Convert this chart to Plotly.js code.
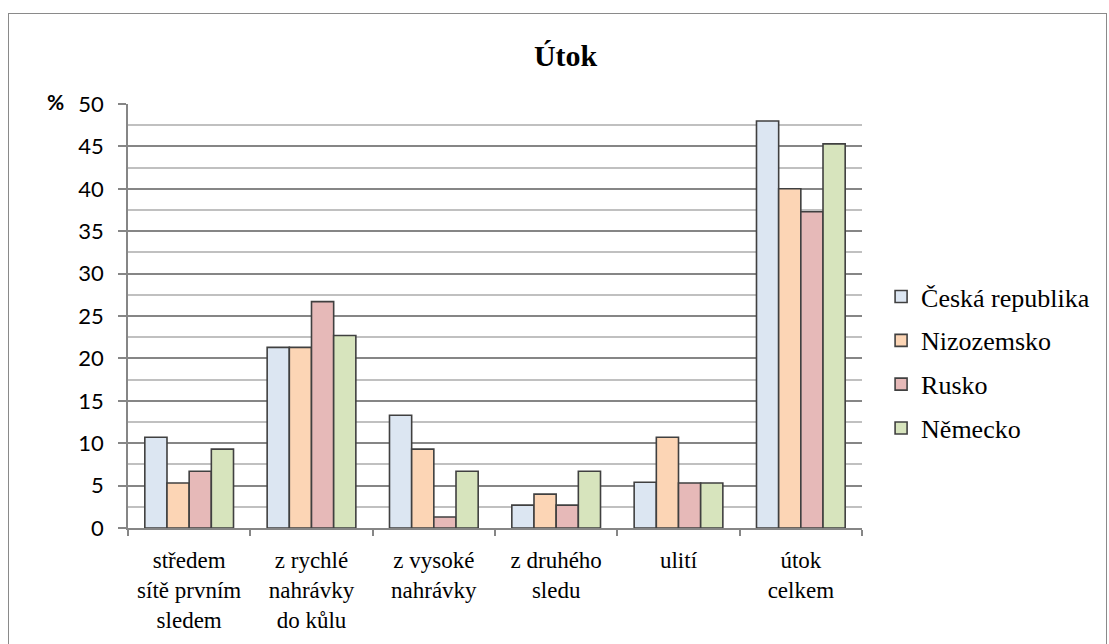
<!DOCTYPE html>
<html>
<head>
<meta charset="utf-8">
<script src="https://cdn.plot.ly/plotly-3.0.1.min.js"></script>
<style>
html,body{margin:0;padding:0;background:#fff;}
#wrap{position:relative;width:1109px;height:644px;overflow:hidden;}
#frame{position:absolute;left:8px;top:13px;width:1099px;height:700px;border:1.5px solid #8a8a8a;box-sizing:border-box;pointer-events:none;z-index:5;}
#chart{position:absolute;left:0;top:0;width:1109px;height:644px;}
</style>
</head>
<body>
<div id="wrap"><div id="chart"></div><div id="frame"></div></div>
<script>
const categories = [
  "středem<br>sítě prvním<br>sledem",
  "z rychlé<br>nahrávky<br>do kůlu",
  "z vysoké<br>nahrávky",
  "z druhého<br>sledu",
  "ulití",
  "útok<br>celkem"
];
const seriesNames = ["Česká republika", "Nizozemsko", "Rusko", "Německo"];
const ceskaRepublika = [10.7, 21.3, 13.3, 2.7, 5.4, 48.0];
const nizozemsko     = [5.3, 21.3, 9.3, 4.0, 10.7, 40.0];
const rusko          = [6.7, 26.7, 1.3, 2.7, 5.3, 37.3];
const nemecko        = [9.3, 22.7, 6.7, 6.7, 5.3, 45.3];
const yTicks = [0, 5, 10, 15, 20, 25, 30, 35, 40, 45, 50];

const seriesValues = [ceskaRepublika, nizozemsko, rusko, nemecko];
const colors = ["#dce6f2", "#fcd5b5", "#e6b9b8", "#d7e4bd"];
const SERIF = "Liberation Serif";
const SANS = "Lato";

const traces = seriesValues.map((vals, i) => ({
  type: "bar",
  name: seriesNames[i],
  x: categories,
  y: vals,
  legendgroup: "g" + i,
  marker: {color: colors[i], line: {color: "#404040", width: 1.6}},
  hoverinfo: "x+y+name"
}));

const layout = {
  width: 1109, height: 644,
  margin: {l: 128, r: 247, t: 104, b: 116},
  paper_bgcolor: "#ffffff",
  plot_bgcolor: "#ffffff",
  font: {family: SERIF, color: "#000"},
  barmode: "group",
  bargap: 0.275,
  bargroupgap: 0,
  title: {
    text: "<b>Útok</b>",
    font: {family: SERIF, size: 30, color: "#000"},
    x: 0.51, xref: "container", xanchor: "center",
    y: 1 - 55/644, yref: "container", yanchor: "middle"
  },
  xaxis: {
    type: "category",
    tickson: "boundaries",
    ticks: "outside", ticklen: 6, tickcolor: "#868686", tickwidth: 1.5,
    ticklabelstandoff: 11,
    showline: true, linecolor: "#868686", linewidth: 1.5,
    showgrid: false,
    tickfont: {family: SERIF, size: 23, color: "#000"},
    tickangle: 0
  },
  yaxis: {
    range: [0, 50],
    tickvals: yTicks,
    ticktext: yTicks.map(String),
    ticks: "outside", ticklen: 8, tickcolor: "#868686", tickwidth: 1.5,
    ticklabelstandoff: 10,
    showline: true, linecolor: "#868686", linewidth: 1.5,
    showgrid: true, gridcolor: "#868686", gridwidth: 1.5,
    zeroline: false,
    minor: {dtick: 2.5, tick0: 0, showgrid: true, gridcolor: "#c0c0c0", gridwidth: 1.5, ticks: ""},
    tickfont: {family: SANS, size: 22, color: "#000"},
    fixedrange: true
  },
  legend: {
    x: 1.026, xanchor: "left",
    y: 0.39, yanchor: "middle",
    font: {family: SERIF, size: 26, color: "#000"},
    tracegroupgap: 7,
    itemwidth: 30,
    bgcolor: "rgba(0,0,0,0)"
  },
  annotations: [{
    text: "<b>%</b>",
    xref: "paper", yref: "paper",
    x: (55 - 128) / 734, y: (528 - 102) / 424,
    xanchor: "center", yanchor: "middle",
    showarrow: false,
    font: {family: SANS, size: 21, color: "#000"}
  }]
};

Plotly.newPlot("chart", traces, layout, {displayModeBar: false});
</script>
</body>
</html>
